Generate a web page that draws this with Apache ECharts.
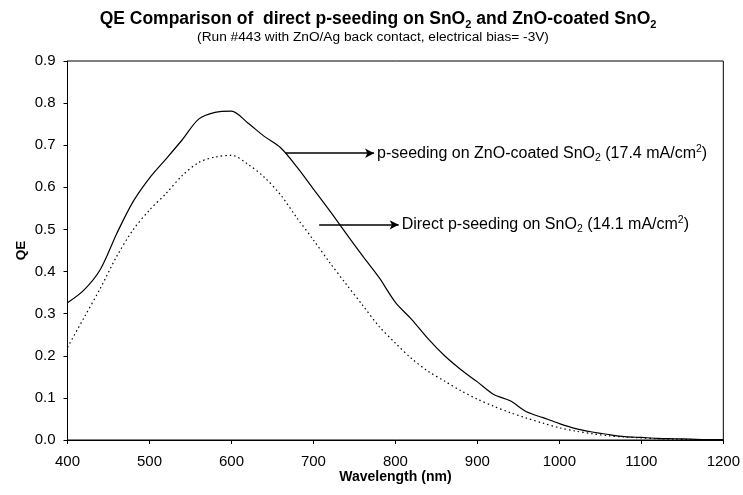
<!DOCTYPE html>
<html>
<head>
<meta charset="utf-8">
<script src="https://cdn.jsdelivr.net/npm/echarts@6/dist/echarts.min.js"></script>
<style>
  html, body { margin: 0; padding: 0; background: #fff; }
  #chart { width: 743px; height: 495px; }
</style>
</head>
<body>
<div id="chart"></div>
<script>
// Wavelength grid (nm), 20 nm steps
const wavelength = [400, 420, 440, 460, 480, 500, 520, 540, 560, 580, 600, 620, 640, 660, 680, 700, 720, 740, 760, 780,
  800, 820, 840, 860, 880, 900, 920, 940, 960, 980, 1000, 1020, 1040, 1060, 1080, 1100, 1120, 1140, 1160, 1180, 1200];

// QE, p-seeding on ZnO-coated SnO2
const qeZnOCoated = [0.326, 0.356, 0.405, 0.490, 0.566, 0.622, 0.667, 0.713, 0.762, 0.778, 0.781, 0.753, 0.721, 0.694,
  0.648, 0.596, 0.544, 0.490, 0.437, 0.386, 0.327, 0.286, 0.240, 0.200, 0.167, 0.138, 0.108, 0.093, 0.067, 0.053,
  0.039, 0.027, 0.019, 0.013, 0.008, 0.006, 0.004, 0.003, 0.002, 0.001, 0.001];

// QE, direct p-seeding on SnO2
const qeDirect = [0.220, 0.290, 0.360, 0.436, 0.499, 0.546, 0.585, 0.628, 0.659, 0.672, 0.676, 0.655, 0.624, 0.582,
  0.527, 0.475, 0.421, 0.370, 0.320, 0.270, 0.230, 0.193, 0.163, 0.140, 0.117, 0.097, 0.080, 0.065, 0.052, 0.040,
  0.029, 0.021, 0.015, 0.010, 0.007, 0.005, 0.003, 0.002, 0.001, 0.001, 0.000];

// Annotation arrows: [start wavelength, end wavelength, QE level]
const arrowZnO = [666, 774, 0.681];
const arrowDirect = [707, 804, 0.511];

const yTicks = [0, 0.1, 0.2, 0.3, 0.4, 0.5, 0.6, 0.7, 0.8, 0.9];

const FONT = 'Liberation Sans, Arial, sans-serif';

const pair = (xs, ys) => xs.map((x, i) => [x, ys[i]]);

// Rich-text styles for annotation labels with sub/superscripts
const richNote = {
  t: { fontSize: 16, fontFamily: FONT, color: '#000', lineHeight: 20 },
  sub: { fontSize: 10.5, fontFamily: FONT, color: '#000', lineHeight: 12, verticalAlign: 'bottom' },
  sup: { fontSize: 10.5, fontFamily: FONT, color: '#000', lineHeight: 13, verticalAlign: 'top' }
};

function arrowMark(a, text) {
  return {
    silent: true,
    symbol: ['none', 'arrow'],
    symbolSize: [7, 9],
    lineStyle: { color: '#000', width: 1.5, type: 'solid' },
    label: {
      show: true,
      position: 'end',
      distance: 3,
      formatter: text,
      rich: richNote
    },
    data: [[{ coord: [a[0], a[2]] }, { coord: [a[1], a[2]] }]]
  };
}

const chart = echarts.init(document.getElementById('chart'), null, { renderer: 'canvas' });

chart.setOption({
  animation: false,
  backgroundColor: '#fff',
  title: [
    {
      text: '{t|QE Comparison of  direct p-seeding on SnO}{s|2}{t| and ZnO-coated SnO}{s|2}',
      left: 378,
      top: 8,
      padding: 0,
      textAlign: 'center',
      textStyle: {
        rich: {
          t: { fontSize: 17.5, fontWeight: 'bold', fontFamily: FONT, color: '#000', lineHeight: 22 },
          s: { fontSize: 11, fontWeight: 'bold', fontFamily: FONT, color: '#000', lineHeight: 12.5, verticalAlign: 'bottom' }
        }
      }
    },
    {
      text: '(Run #443 with ZnO/Ag back contact, electrical bias= -3V)',
      left: 373,
      top: 29,
      padding: 0,
      textAlign: 'center',
      textStyle: { fontSize: 13.7, fontWeight: 'normal', fontFamily: FONT, color: '#000', lineHeight: 16 }
    }
  ],
  grid: {
    left: 67.5,
    right: 17,
    top: 61,
    bottom: 55,
    show: true,
    borderColor: '#000',
    borderWidth: 1
  },
  xAxis: {
    type: 'value',
    min: 400,
    max: 1200,
    interval: 100,
    name: 'Wavelength (nm)',
    nameLocation: 'middle',
    nameGap: 30,
    nameMoveOverlap: false,
    nameTextStyle: { fontSize: 14, fontWeight: 'bold', fontFamily: FONT, color: '#000' },
    axisLine: { lineStyle: { color: '#000', width: 1 } },
    axisTick: { show: true, inside: false, length: 4, lineStyle: { color: '#000' } },
    axisLabel: { fontSize: 15, fontFamily: FONT, color: '#000', margin: 14, formatter: v => String(v) },
    splitLine: { show: false }
  },
  yAxis: {
    type: 'value',
    min: 0,
    max: 0.9,
    interval: 0.1,
    name: 'QE',
    nameLocation: 'middle',
    nameGap: 39,
    nameMoveOverlap: false,
    nameRotate: 90,
    nameTextStyle: { fontSize: 13.5, fontWeight: 'bold', fontFamily: FONT, color: '#000' },
    axisLine: { show: true, lineStyle: { color: '#000', width: 1 } },
    axisTick: { show: true, inside: false, length: 4, lineStyle: { color: '#000' } },
    axisLabel: {
      fontSize: 15, fontFamily: FONT, color: '#000', margin: 12,
      formatter: v => {
        const t = yTicks.find(k => Math.abs(k - v) < 1e-9);
        return (t !== undefined ? t : v).toFixed(1);
      }
    },
    splitLine: { show: false }
  },
  series: [
    {
      name: 'p-seeding on ZnO-coated SnO2',
      type: 'line',
      data: pair(wavelength, qeZnOCoated),
      smooth: 0.3,
      symbol: 'none',
      lineStyle: { color: '#000', width: 1.2 },
      markLine: arrowMark(arrowZnO, '{t|p-seeding on ZnO-coated SnO}{sub|2}{t| (17.4 mA/cm}{sup|2}{t|)}')
    },
    {
      name: 'Direct p-seeding on SnO2',
      type: 'line',
      data: pair(wavelength, qeDirect),
      smooth: 0.3,
      symbol: 'none',
      lineStyle: { color: '#000', width: 1.2, type: [1.5, 3] },
      markLine: arrowMark(arrowDirect, '{t|Direct p-seeding on SnO}{sub|2}{t| (14.1 mA/cm}{sup|2}{t|)}')
    }
  ]
});
</script>
</body>
</html>
